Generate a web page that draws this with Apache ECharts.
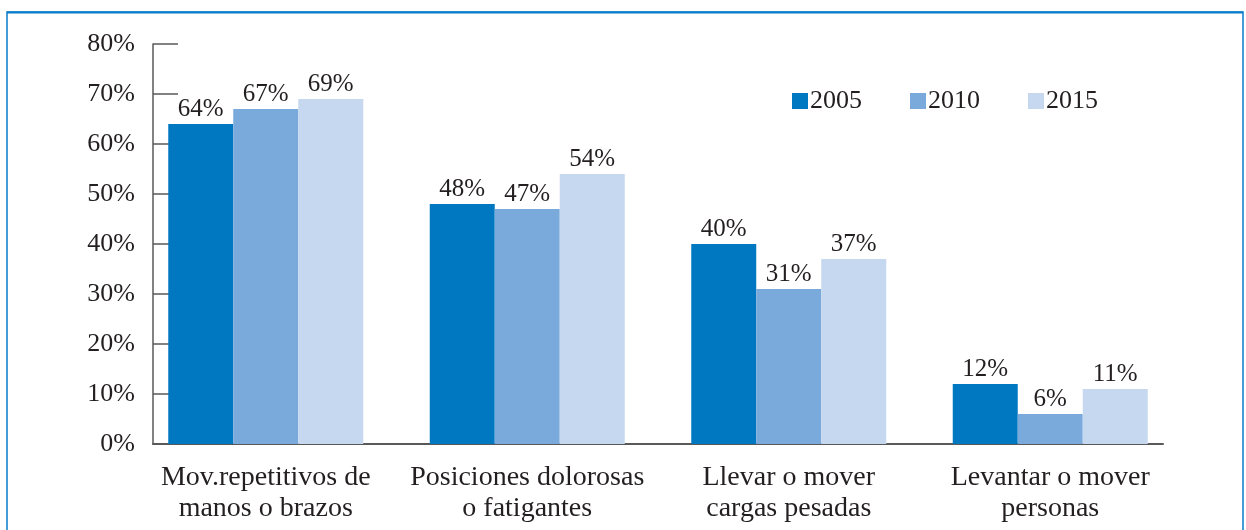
<!DOCTYPE html>
<html>
<head>
<meta charset="utf-8">
<script src="https://cdn.jsdelivr.net/npm/echarts@6/dist/echarts.min.js"></script>
<style>
  html, body { margin: 0; padding: 0; background: #fff; }
  #chart { width: 1246px; height: 530px; }
</style>
</head>
<body>
<div id="chart"></div>
<script>
// datos
var categories = [
  'Mov.repetitivos de\nmanos o brazos',
  'Posiciones dolorosas\no fatigantes',
  'Llevar o mover\ncargas pesadas',
  'Levantar o mover\npersonas'
];
var years = ['2005', '2010', '2015'];
var values2005 = [64, 48, 40, 12];
var values2010 = [67, 47, 31, 6];
var values2015 = [69, 54, 37, 11];
var colors = ['#0077c1', '#7aaadb', '#c5d8ef'];

var font = 'Liberation Serif';
var textColor = '#231f20';
var axisColor = '#595959';

var chart = echarts.init(document.getElementById('chart'));

function barSeries(name, data, color) {
  return {
    name: name,
    type: 'bar',
    xAxisIndex: 0,
    yAxisIndex: 0,
    data: data,
    barWidth: 65,
    barGap: '0%',
    itemStyle: { color: color },
    label: {
      show: true,
      position: 'top',
      distance: 2,
      formatter: '{c}%',
      fontFamily: font,
      fontSize: 25,
      color: textColor
    }
  };
}

var option = {
  animation: false,
  color: colors,
  graphic: [{
    type: 'rect',
    shape: { x: 7, y: 12, width: 1236, height: 540 },
    style: { fill: 'none', stroke: '#0a7cc9', lineWidth: 1.5 },
    z: -1
  }, {
    type: 'line',
    shape: { x1: 7, y1: 12.5, x2: 1243, y2: 12.5 },
    style: { stroke: '#0a7cc9', lineWidth: 2 },
    z: -1
  }],
  legend: {
    data: years,
    left: 787,
    top: 83,
    itemWidth: 16,
    itemHeight: 16,
    itemGap: 48,
    icon: 'rect',
    textStyle: { fontFamily: font, fontSize: 26, color: textColor, padding: [2, 0, 0, -3] }
  },
  grid: [
    { left: 135, right: 65, top: 44, bottom: 86 },
    { left: 153, right: 83, top: 44, bottom: 86 }
  ],
  xAxis: [{
    type: 'category',
    gridIndex: 0,
    data: categories,
    axisLine: { show: false },
    axisTick: { show: false },
    axisLabel: {
      interval: 0,
      hideOverlap: false,
      margin: 18,
      fontFamily: font,
      fontSize: 28,
      lineHeight: 31,
      color: textColor
    }
  }, {
    type: 'category',
    gridIndex: 1,
    data: categories,
    axisLine: { lineStyle: { color: axisColor, width: 2 } },
    axisTick: {
      inside: true,
      length: 6,
      interval: function (i) { return i === 0; },
      lineStyle: { color: axisColor, width: 2 }
    },
    axisLabel: { show: false }
  }],
  yAxis: [{
    type: 'value',
    gridIndex: 0,
    min: 0,
    max: 80,
    show: false
  }, {
    type: 'value',
    gridIndex: 1,
    min: 0,
    max: 80,
    interval: 10,
    axisLine: { show: true, lineStyle: { color: axisColor, width: 1.5 } },
    axisTick: { show: true, inside: true, length: 25, lineStyle: { color: axisColor, width: 1.5 } },
    splitLine: { show: false },
    axisLabel: {
      formatter: '{value}%',
      margin: 18,
      fontFamily: font,
      fontSize: 26,
      color: textColor
    }
  }],
  series: [
    barSeries(years[0], values2005, colors[0]),
    barSeries(years[1], values2010, colors[1]),
    barSeries(years[2], values2015, colors[2])
  ]
};

chart.setOption(option);
</script>
</body>
</html>
